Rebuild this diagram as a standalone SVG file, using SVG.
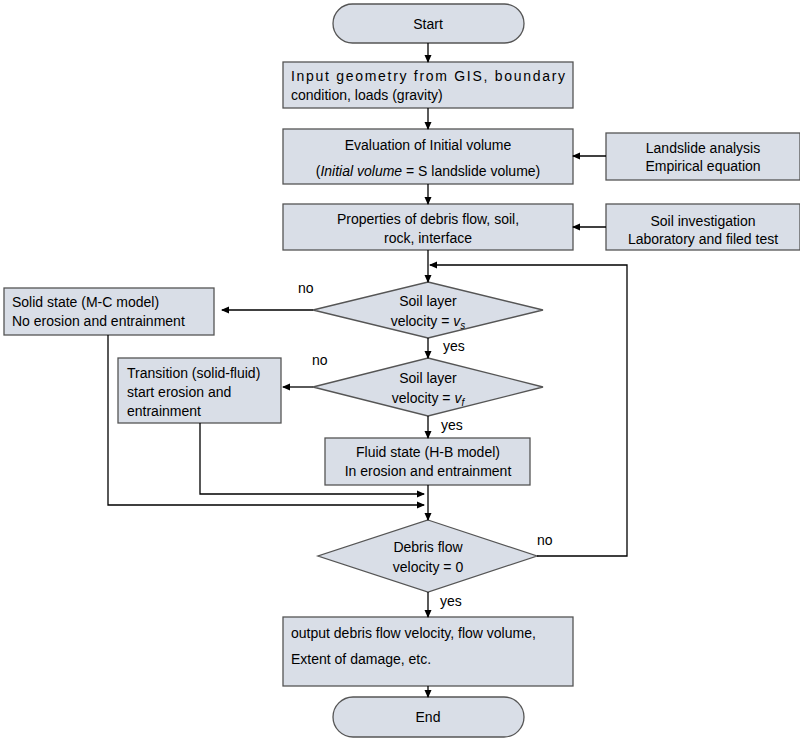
<svg xmlns="http://www.w3.org/2000/svg" width="800" height="739" viewBox="0 0 800 739">
<style>
.b{fill:#d9dee7;stroke:#555;stroke-width:1.3}
text{font-family:"Liberation Sans",Arial,sans-serif;font-size:14px;fill:#000}
.m{text-anchor:middle}
.c{fill:none;stroke:#000;stroke-width:1.3}
</style>
<defs><marker id="a" markerWidth="8" markerHeight="8" refX="7" refY="4" orient="auto" markerUnits="userSpaceOnUse"><path d="M0,0.5 L8,4 L0,7.5Z" fill="#000"/></marker></defs>
<g id="start"><rect class="b" x="333" y="4" width="191" height="39" rx="19.5"/><text class="m" x="428" y="29">Start</text></g>
<g id="input"><rect class="b" x="283" y="62" width="290" height="46"/><text x="291" y="81" textLength="274" lengthAdjust="spacing">Input geometry from GIS, boundary</text><text x="291" y="100">condition, loads (gravity)</text></g>
<g id="eval"><rect class="b" x="283" y="129" width="290" height="55"/><text class="m" x="428" y="150">Evaluation of Initial volume</text><text class="m" x="428" y="176">(<tspan font-style="italic">Initial volume</tspan> = S landslide volume)</text></g>
<g id="landslide"><rect class="b" x="606" y="133" width="194" height="47"/><text class="m" x="703" y="153">Landslide analysis</text><text class="m" x="703" y="171">Empirical equation</text></g>
<g id="props"><rect class="b" x="283" y="204" width="290" height="46"/><text class="m" x="428" y="224">Properties of debris flow, soil,</text><text class="m" x="428" y="243">rock, interface</text></g>
<g id="soilinv"><rect class="b" x="606" y="204" width="194" height="46"/><text class="m" x="703" y="226">Soil investigation</text><text class="m" x="703" y="244">Laboratory and filed test</text></g>
<g id="d1"><polygon class="b" points="428,282 543,310 428,338 313,310"/><text class="m" x="428" y="306">Soil layer</text><text class="m" x="428" y="326">velocity = <tspan font-style="italic">v</tspan><tspan font-style="italic" font-size="10" dy="3">s</tspan></text></g>
<g id="solid"><rect class="b" x="4" y="288" width="210" height="47"/><text x="12" y="307">Solid state (M-C model)</text><text x="12" y="326">No erosion and entrainment</text></g>
<g id="d2"><polygon class="b" points="428,358 543,387 428,416 313,387"/><text class="m" x="428" y="383">Soil layer</text><text class="m" x="428" y="403">velocity = <tspan font-style="italic">v</tspan><tspan font-style="italic" font-size="10" dy="3">f</tspan></text></g>
<g id="trans"><rect class="b" x="118" y="358" width="163" height="65"/><text x="127" y="378">Transition (solid-fluid)</text><text x="127" y="397">start erosion and</text><text x="127" y="416">entrainment</text></g>
<g id="fluid"><rect class="b" x="325" y="438" width="205" height="47"/><text class="m" x="428" y="457">Fluid state (H-B model)</text><text class="m" x="428" y="476">In erosion and entrainment</text></g>
<g id="d3"><polygon class="b" points="428,520 537,556 428,592 318,556"/><text class="m" x="428" y="552">Debris flow</text><text class="m" x="428" y="572">velocity = 0</text></g>
<g id="output"><rect class="b" x="283" y="617" width="290" height="69"/><text x="291" y="638">output debris flow velocity, flow volume,</text><text x="291" y="664">Extent of damage, etc.</text></g>
<g id="end"><rect class="b" x="333" y="697" width="191" height="40" rx="20"/><text class="m" x="428" y="722">End</text></g>
<g id="connectors">
<path class="c" marker-end="url(#a)" d="M428,43V62"/>
<path class="c" marker-end="url(#a)" d="M428,108V129"/>
<path class="c" marker-end="url(#a)" d="M428,184V204"/>
<path class="c" marker-end="url(#a)" d="M606,156H573"/>
<path class="c" marker-end="url(#a)" d="M606,227H573"/>
<path class="c" marker-end="url(#a)" d="M428,250V282"/>
<path class="c" marker-end="url(#a)" d="M313,310H222"/>
<path class="c" marker-end="url(#a)" d="M428,338V358"/>
<path class="c" marker-end="url(#a)" d="M313,387H283"/>
<path class="c" marker-end="url(#a)" d="M428,416V438"/>
<path class="c" marker-end="url(#a)" d="M200,423V494H424"/>
<path class="c" marker-end="url(#a)" d="M108,335V505H424"/>
<path class="c" marker-end="url(#a)" d="M428,485V520"/>
<path class="c" marker-end="url(#a)" d="M537,556H627V265H430"/>
<path class="c" marker-end="url(#a)" d="M428,592V617"/>
<path class="c" marker-end="url(#a)" d="M428,686V697"/>
<text x="298" y="293">no</text>
<text x="443" y="351">yes</text>
<text x="312" y="365">no</text>
<text x="441" y="430">yes</text>
<text x="537" y="545">no</text>
<text x="440" y="606">yes</text>
</g>
</svg>
